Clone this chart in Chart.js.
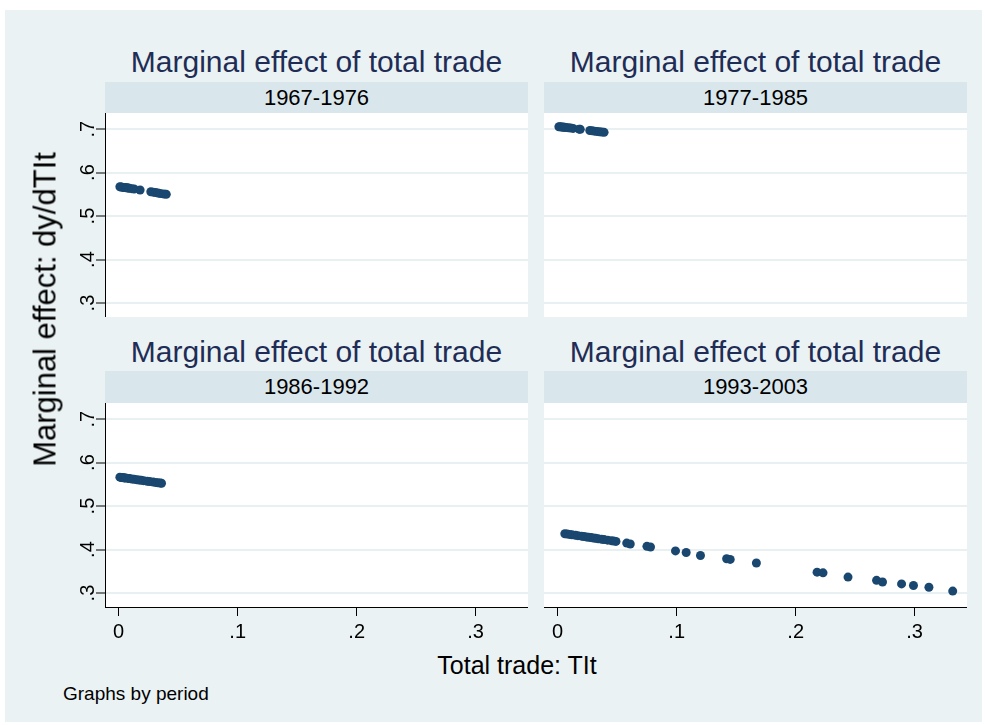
<!DOCTYPE html>
<html>
<head>
<meta charset="utf-8">
<script src="https://cdn.jsdelivr.net/npm/chart.js@4.4.1/dist/chart.umd.min.js"></script>
<style>
  body { margin: 0; width: 985px; height: 725px; position: relative; overflow: hidden; background: #fff; font-family: "Liberation Sans", Arial, sans-serif; }
  #bg { position: absolute; left: 5px; top: 10px; width: 977px; height: 712px; background: #eaf2f3; }
  .title { position: absolute; width: 423px; text-align: center; font-size: 30px; line-height: 30px; color: #1f2d56; white-space: nowrap; }
  .strip { position: absolute; width: 423px; height: 31px; line-height: 31px; text-align: center; font-size: 22px; background: #d9e6ec; color: #000; }
  .axis-title { position: absolute; text-align: center; color: #000; white-space: nowrap; }
  canvas { position: absolute; }
</style>
</head>
<body>
<div id="bg"></div>

<div class="title" style="left:105px; top:47px;">Marginal effect of total trade</div>
<div class="title" style="left:544px; top:47px;">Marginal effect of total trade</div>
<div class="title" style="left:105px; top:337px;">Marginal effect of total trade</div>
<div class="title" style="left:544px; top:337px;">Marginal effect of total trade</div>

<div class="strip" id="strip0" style="left:105px; top:82px;"></div>
<div class="strip" id="strip1" style="left:544px; top:82px;"></div>
<div class="strip" id="strip2" style="left:105px; top:371px; height:32px; line-height:32px;"></div>
<div class="strip" id="strip3" style="left:544px; top:371px; height:32px; line-height:32px;"></div>

<canvas id="c0" width="468" height="204" style="left:60px; top:113px;"></canvas>
<canvas id="c1" width="423" height="204" style="left:544px; top:113px;"></canvas>
<canvas id="c2" width="468" height="247" style="left:60px; top:403px;"></canvas>
<canvas id="c3" width="423" height="247" style="left:544px; top:403px;"></canvas>

<div class="axis-title" style="left:-155px; top:294px; width:400px; font-size:31px; line-height:31px; transform: rotate(-90deg);">Marginal effect: dy/dTIt</div>
<div class="axis-title" style="left:317px; top:653px; width:400px; font-size:25px; line-height:25px;">Total trade: TIt</div>
<div class="axis-title" style="left:63px; top:684px; font-size:19px; line-height:19px;">Graphs by period</div>

<script>
const periods = ['1967-1976', '1977-1985', '1986-1992', '1993-2003']
const xTicks = [0, 0.1, 0.2, 0.3]
const yTicks = [0.3, 0.4, 0.5, 0.6, 0.7]
const xMin = -0.0115
const xMax = 0.344
const yMin = 0.268
const yMax = 0.737

// 1967-1976
const trade6776 = [0.001, 0.002, 0.003, 0.004, 0.005, 0.006, 0.007, 0.008, 0.009, 0.011, 0.013, 0.018, 0.027, 0.029, 0.031, 0.033, 0.035, 0.038, 0.040]
const effect6776 = [0.5675, 0.567, 0.5665, 0.566, 0.5658, 0.5653, 0.565, 0.5644, 0.564, 0.563, 0.5622, 0.560, 0.556, 0.555, 0.554, 0.553, 0.552, 0.5508, 0.550]

// 1977-1985
const trade7785 = [0.001, 0.002, 0.003, 0.004, 0.005, 0.006, 0.007, 0.009, 0.011, 0.013, 0.018, 0.019, 0.027, 0.029, 0.031, 0.033, 0.035, 0.037, 0.039]
const effect7785 = [0.7055, 0.7052, 0.705, 0.7046, 0.7043, 0.704, 0.7037, 0.703, 0.7023, 0.7016, 0.6998, 0.6995, 0.6967, 0.696, 0.6953, 0.6946, 0.694, 0.6933, 0.6926]

// 1986-1992
const trade8692 = [0.001, 0.002, 0.003, 0.004, 0.005, 0.006, 0.008, 0.009, 0.011, 0.013, 0.015, 0.017, 0.019, 0.021, 0.024, 0.026, 0.029, 0.031, 0.033, 0.035, 0.036]
const effect8692 = [0.5665, 0.566, 0.5656, 0.5652, 0.5648, 0.5644, 0.5636, 0.5632, 0.5624, 0.5616, 0.5608, 0.560, 0.5592, 0.5584, 0.5572, 0.5564, 0.5552, 0.5544, 0.5536, 0.5528, 0.5524]

// 1993-2003
const trade9303 = [0.006, 0.008, 0.010, 0.012, 0.015, 0.017, 0.020, 0.022, 0.024, 0.026, 0.028, 0.030, 0.032, 0.034, 0.037, 0.039, 0.042, 0.045, 0.047, 0.049, 0.058, 0.061, 0.075, 0.078, 0.099, 0.108, 0.120, 0.142, 0.145, 0.167, 0.218, 0.223, 0.244, 0.268, 0.273, 0.289, 0.299, 0.312, 0.332]
const effect9303 = [0.4365, 0.4357, 0.4349, 0.434, 0.4328, 0.432, 0.4308, 0.430, 0.4291, 0.4283, 0.4275, 0.4267, 0.4258, 0.425, 0.4238, 0.423, 0.4217, 0.4205, 0.4197, 0.4188, 0.415, 0.4128, 0.4075, 0.406, 0.397, 0.3932, 0.3865, 0.379, 0.3774, 0.3692, 0.3481, 0.3466, 0.3368, 0.3293, 0.3256, 0.3211, 0.3173, 0.3135, 0.3045]

const font = '"Liberation Sans", Arial, sans-serif'
const tickLabel = v => v === 0 ? '0' : String(v).replace(/^0/, '')

// white plot region
const plotBg = {
  id: 'plotBg',
  beforeDraw: chart => {
    const { ctx, chartArea: a } = chart
    ctx.save()
    ctx.fillStyle = '#fff'
    ctx.fillRect(a.left, a.top, a.width, a.height)
    ctx.restore()
  }
}

// y tick labels turned 90 degrees like the stata graph
const yLabels = {
  id: 'yLabels',
  afterDraw: chart => {
    const s = chart.scales.y
    const ctx = chart.ctx
    ctx.save()
    ctx.font = '20px ' + font
    ctx.fillStyle = '#000'
    ctx.textAlign = 'center'
    ctx.textBaseline = 'middle'
    s.ticks.forEach(t => {
      ctx.save()
      ctx.translate(s.right - 17, s.getPixelForValue(t.value))
      ctx.rotate(-Math.PI / 2)
      ctx.fillText(tickLabel(t.value), 0, 0)
      ctx.restore()
    })
    ctx.restore()
  }
}

const makePanel = (id, xs, ys, showY, showX) => {
  return new Chart(document.getElementById(id), {
    type: 'scatter',
    data: {
      datasets: [{
        data: xs.map((x, i) => ({ x, y: ys[i] })),
        backgroundColor: '#1a476f',
        borderWidth: 0,
        pointRadius: 4.5
      }]
    },
    options: {
      responsive: false,
      animation: false,
      events: [],
      layout: { padding: 0, autoPadding: false },
      plugins: { legend: { display: false }, tooltip: { enabled: false } },
      scales: {
        x: {
          type: 'linear',
          display: showX,
          min: xMin,
          max: xMax,
          afterBuildTicks: s => { s.ticks = xTicks.map(value => ({ value })) },
          afterFit: s => { s.height = showX ? 43 : 0 },
          grid: { drawOnChartArea: false, tickLength: 9, tickColor: '#000', tickWidth: 1 },
          border: { color: '#000', width: 1 },
          ticks: { font: { size: 20, family: font }, color: '#000', padding: 4, maxRotation: 0, autoSkip: false, callback: v => tickLabel(v) }
        },
        y: {
          type: 'linear',
          min: yMin,
          max: yMax,
          afterBuildTicks: s => { s.ticks = yTicks.map(value => ({ value })) },
          afterFit: s => { s.width = showY ? 45 : 0 },
          grid: { color: '#e9f0f2', lineWidth: 2, drawTicks: showY, tickLength: 9, tickColor: '#000', tickWidth: 1 },
          border: { display: showY, color: '#000', width: 1 },
          ticks: { display: false }
        }
      }
    },
    plugins: showY ? [plotBg, yLabels] : [plotBg]
  })
}

periods.forEach((p, i) => { document.getElementById('strip' + i).textContent = p })

makePanel('c0', trade6776, effect6776, true, false)
makePanel('c1', trade7785, effect7785, false, false)
makePanel('c2', trade8692, effect8692, true, true)
makePanel('c3', trade9303, effect9303, false, true)
</script>
</body>
</html>
